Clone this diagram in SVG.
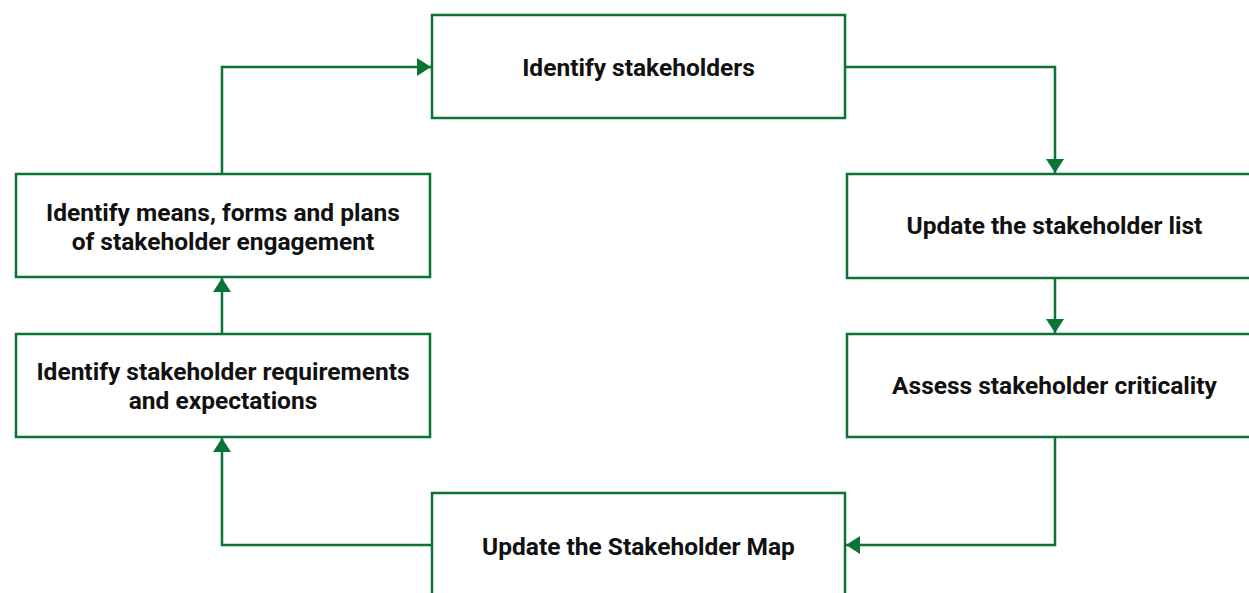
<svg xmlns="http://www.w3.org/2000/svg" width="1249" height="593" viewBox="0 0 1249 593">
<style>
.box{fill:#fff;stroke:#0b7335;stroke-width:2.5}
.lbl{font-family:Roboto,"Liberation Sans",sans-serif;font-weight:bold;font-size:24.5px;fill:#111;text-anchor:middle}
.con{fill:none;stroke:#0b7335;stroke-width:2.5}
</style>
<defs>
<marker id="arr" viewBox="0 0 14 18" refX="14" refY="9" markerWidth="14" markerHeight="18" markerUnits="userSpaceOnUse" orient="auto">
<path d="M0,0 L14,9 L0,18 Z" fill="#0b7335"/>
</marker>
</defs>
<rect width="1249" height="593" fill="#fff"/>
<g id="connectors">
<path class="con" d="M222,174 V67 H431" marker-end="url(#arr)"/>
<path class="con" d="M845,67 H1055 V173" marker-end="url(#arr)"/>
<path class="con" d="M1055,278 V333" marker-end="url(#arr)"/>
<path class="con" d="M1055,437 V545 H846" marker-end="url(#arr)"/>
<path class="con" d="M432,545 H222 V438" marker-end="url(#arr)"/>
<path class="con" d="M222,334 V278" marker-end="url(#arr)"/>
</g>
<g id="n1"><rect class="box" x="432" y="15" width="413" height="103"/><text class="lbl" x="638.5" y="76">Identify stakeholders</text></g>
<g id="n2"><rect class="box" x="847" y="174" width="413" height="104"/><text class="lbl" x="1054.5" y="234">Update the stakeholder list</text></g>
<g id="n3"><rect class="box" x="847" y="334" width="413" height="103"/><text class="lbl" x="1054.5" y="394">Assess stakeholder criticality</text></g>
<g id="n4"><rect class="box" x="432" y="493" width="413" height="120"/><text class="lbl" x="638.5" y="555">Update the Stakeholder Map</text></g>
<g id="n5"><rect class="box" x="16" y="334" width="414" height="103"/><text class="lbl" x="223" y="380">Identify stakeholder requirements</text><text class="lbl" x="223" y="409">and expectations</text></g>
<g id="n6"><rect class="box" x="16" y="174" width="414" height="103"/><text class="lbl" x="223" y="221">Identify means, forms and plans</text><text class="lbl" x="223" y="250">of stakeholder engagement</text></g>
</svg>
